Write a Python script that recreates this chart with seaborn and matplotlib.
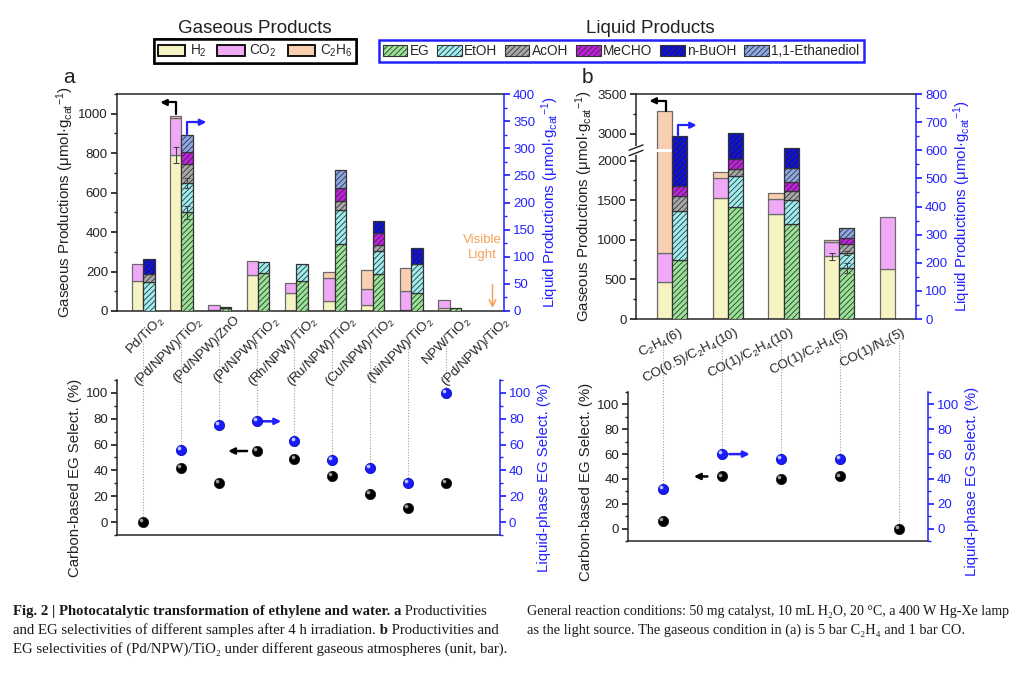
import numpy as np
import pandas as pd
import matplotlib
matplotlib.use("Agg")
import matplotlib.pyplot as plt
import matplotlib.transforms as mtransforms
from matplotlib.patches import Patch
from matplotlib.ticker import MultipleLocator, FixedLocator
import seaborn as sns

nan = np.nan

# ── Panel a: samples (5 bar C2H4 + 1 bar CO) ─────────────────
samples_a = ["Pd/TiO$_2$", "(Pd/NPW)/TiO$_2$", "(Pd/NPW)/ZnO", "(Pt/NPW)/TiO$_2$",
             "(Rh/NPW)/TiO$_2$", "(Ru/NPW)/TiO$_2$", "(Cu/NPW)/TiO$_2$",
             "(Ni/NPW)/TiO$_2$", "NPW/TiO$_2$", "(Pd/NPW)/TiO$_2$"]
h2_a    = [150, 790, 3, 181, 90, 51, 29, 3, 17, 0]
co2_a   = [90, 186, 27, 71, 50, 115, 85, 97, 41, 0]
c2h6_a  = [0, 14, 0, 0, 0, 32, 96, 120, 0, 0]
eg_a    = [0, 182, 6, 70, 55, 123, 68, 34, 6, 0]
etoh_a  = [53, 54, 0, 20, 32, 63, 42, 52, 0, 0]
acoh_a  = [15, 35, 2, 0, 0, 17, 11, 0, 0, 0]
mecho_a = [0, 23, 0, 0, 0, 23, 22, 0, 0, 0]
diol_a  = [0, 30, 0, 0, 0, 34, 0, 0, 0, 0]
buoh_a  = [28, 0, 0, 0, 0, 0, 22, 31, 0, 0]
err_h2_a   = [0, 40, 0, 0, 0, 0, 0, 0, 0, 0]
err_eg_a   = [0, 12, 0, 0, 0, 0, 0, 0, 0, 0]
err_etoh_a = [0, 10, 0, 0, 0, 0, 0, 0, 0, 0]
selc_a = [0, 42, 30, 55, 49, 36, 22, 11, 30, nan]
sell_a = [nan, 56, 75, 78, 63, 48, 42, 30, 100, nan]

# ── Panel b: gas atmospheres (bar) ───────────────────────────
atm_b = ["C$_2$H$_4$(6)", "CO(0.5)/C$_2$H$_4$(10)", "CO(1)/C$_2$H$_4$(10)",
         "CO(1)/C$_2$H$_4$(5)", "CO(1)/N$_2$(5)"]
h2_b    = [463, 1533, 1325, 790, 637]
co2_b   = [374, 246, 187, 187, 645]
c2h6_b  = [2447, 77, 85, 17, 0]
eg_b    = [210, 398, 338, 180, 0]
etoh_b  = [173, 112, 86, 54, 0]
acoh_b  = [53, 24, 30, 32, 0]
mecho_b = [36, 36, 32, 22, 0]
diol_b  = [0, 0, 52, 36, 0]
buoh_b  = [180, 91, 69, 0, 0]
err_h2_b   = [0, 0, 0, 40, 0]
err_eg_b   = [0, 0, 0, 18, 0]
err_etoh_b = [0, 0, 0, 8, 0]
selc_b = [6, 42, 40, 42, 0]
sell_b = [32, 60, 56, 56, nan]

# ── Style ────────────────────────────────────────────────────
sns.set_theme(style="ticks")
plt.rcParams["font.family"] = ["Liberation Sans", "DejaVu Sans"]
plt.rcParams["mathtext.fontset"] = "custom"
plt.rcParams["mathtext.rm"] = "Liberation Sans"
plt.rcParams["mathtext.it"] = "Liberation Sans:italic"
plt.rcParams["mathtext.bf"] = "Liberation Sans:bold"
plt.rcParams["hatch.linewidth"] = 0.6
plt.rcParams["axes.linewidth"] = 1.1

BLUE = "#2222ff"
ORANGE = "#f5a25a"
TXT = "#222222"
TICK_FS = 9.5
LAB_FS = 10.8
gas_colors = {"H2": "#f6f3c2", "CO2": "#efa9f7", "C2H6": "#f8cfb1"}
liq_colors = {"EG": "#98e394", "EtOH": "#9deef0", "AcOH": "#a9a9a9",
              "MeCHO": "#c21fe0", "n-BuOH": "#0b0bd8", "1,1-Ethanediol": "#8ea8e6"}

fig = plt.figure(figsize=(10.3, 6.73), dpi=100)


def draw_stack(ax, x, layers, colors, width, hatch=None, edge="#6a6a6a"):
    bottom = np.zeros(len(x))
    tops = {}
    for name, vals in layers:
        vals = np.asarray(vals, float)
        keep = vals > 0
        ax.bar(x[keep], vals[keep], width, bottom=bottom[keep], align="edge",
               color=colors[name], edgecolor=edge, linewidth=0.9, hatch=hatch, zorder=2)
        bottom = bottom + vals
        tops[name] = bottom.copy()
    return tops


def add_err(ax, x, y, err):
    err = np.asarray(err, float)
    keep = err > 0
    ax.errorbar(x[keep], np.asarray(y)[keep], yerr=err[keep], fmt="none",
                ecolor="#444444", elinewidth=0.8, capsize=2, capthick=0.8, zorder=3)


def style_twin(ax, ax2):
    for s in ["left", "top", "bottom"]:
        ax2.spines[s].set_visible(False)
    ax.spines["right"].set_visible(False)
    ax2.spines["right"].set_color(BLUE)
    ax2.tick_params(axis="y", which="both", colors=BLUE, labelcolor=BLUE, labelsize=TICK_FS)
    ax.tick_params(axis="y", which="both", colors=TXT, labelsize=TICK_FS)
    for a in (ax, ax2):
        a.tick_params(axis="y", which="major", length=4, pad=2.5)
        a.tick_params(axis="y", which="minor", length=2)


def tick_labels(ax, x, labels, rot, dx, dy):
    ax.set_xticks(x)
    ax.set_xticklabels(labels, rotation=rot, ha="right", rotation_mode="anchor", fontsize=TICK_FS)
    ax.tick_params(axis="x", length=0, pad=2, colors=TXT)
    off = mtransforms.ScaledTranslation(dx / 100, dy / 100, fig.dpi_scale_trans)
    for lab in ax.get_xticklabels():
        lab.set_transform(lab.get_transform() + off)


def bent_arrow(ax, start, tip, color):
    ax.annotate("", xy=tip, xytext=start,
                arrowprops=dict(arrowstyle="-|>", color=color, lw=1.6, mutation_scale=9,
                                shrinkA=0, shrinkB=0,
                                connectionstyle="angle,angleA=90,angleB=0,rad=0"),
                annotation_clip=False, zorder=6)


def flat_arrow(ax, start, tip, color):
    ax.annotate("", xy=tip, xytext=start,
                arrowprops=dict(arrowstyle="-|>", color=color, lw=1.8, mutation_scale=9,
                                shrinkA=0, shrinkB=0))


def balls(ax, x, y, color, hl):
    df = pd.DataFrame({"x": x, "y": y}).dropna()
    sns.scatterplot(data=df, x="x", y="y", ax=ax, color=color, s=55,
                    edgecolor="#111111" if color == "black" else "#0000aa",
                    linewidth=0.5, legend=False, zorder=4, clip_on=False)
    off = ax.transData + mtransforms.ScaledTranslation(-1.4 / 72, 1.4 / 72, fig.dpi_scale_trans)
    ax.scatter(df["x"], df["y"], s=7, color=hl, lw=0, zorder=5, transform=off, clip_on=False)
    ax.set_xlabel("")
    ax.set_ylabel("")


def sel_panel(rect, x, selc, sell, xlim, line_top, label_y):
    axs = fig.add_axes(rect)
    axs.patch.set_alpha(0)
    axs2 = axs.twinx()
    tops = np.fmax(np.nan_to_num(np.asarray(selc, float), nan=-99),
                   np.nan_to_num(np.asarray(sell, float), nan=-99))
    keep = tops > -50
    axs.vlines(x[keep], tops[keep], line_top, colors="#a0a0a0", linestyles=(0, (1, 1.5)),
               lw=0.8, clip_on=False, zorder=1)
    balls(axs, x, selc, "black", "#9a9a9a")
    balls(axs2, x, sell, "#1a1aff", "#b8c8ff")
    for a in (axs, axs2):
        a.set_ylim(-10, 110)
        a.set_xlim(*xlim)
        a.yaxis.set_major_locator(MultipleLocator(20))
        a.yaxis.set_minor_locator(MultipleLocator(10))
    axs.set_xticks([])
    axs.spines["top"].set_visible(False)
    style_twin(axs, axs2)
    axs.set_ylabel("Carbon-based EG Select. (%)", fontsize=LAB_FS, color=TXT, labelpad=3)
    axs2.set_ylabel("Liquid-phase EG Select. (%)", fontsize=LAB_FS, color=BLUE, labelpad=4)
    axs.yaxis.label.set_y(label_y)
    axs2.yaxis.label.set_y(label_y)
    return axs, axs2


gas_label = r"Gaseous Productions (μmol·g$_{\mathrm{cat}}$$^{-1}$)"
liq_label = r"Liquid Productions (μmol·g$_{\mathrm{cat}}$$^{-1}$)"

# ── Selectivity panels (bottom, drawn first so top labels sit above) ──
xa = np.arange(len(samples_a))
xb = np.arange(len(atm_b))
sa, sa2 = sel_panel([0.1136, 0.2051, 0.3718, 0.2303], xa, selc_a, sell_a, (-0.68, 9.42), 140, 0.37)
flat_arrow(sa, (2.75, 55), (2.25, 55), "black")
flat_arrow(sa2, (3.12, 78), (3.65, 78), BLUE)
sb, sb2 = sel_panel([0.6097, 0.1961, 0.2913, 0.2214], xb, selc_b, sell_b, (-0.6, 4.5), 150, 0.40)
flat_arrow(sb, (0.75, 42), (0.52, 42), "black")
flat_arrow(sb2, (1.12, 60), (1.47, 60), BLUE)

# ── Panel a (top) ────────────────────────────────────────────
wa = 0.3
ax_a = fig.add_axes([0.1136, 0.5379, 0.3757, 0.3224])
ax_a2 = ax_a.twinx()
gt = draw_stack(ax_a, xa - wa, [("H2", h2_a), ("CO2", co2_a), ("C2H6", c2h6_a)], gas_colors, wa)
lt = draw_stack(ax_a2, xa, [("EG", eg_a), ("EtOH", etoh_a), ("AcOH", acoh_a), ("MeCHO", mecho_a),
                            ("1,1-Ethanediol", diol_a), ("n-BuOH", buoh_a)],
                liq_colors, wa, hatch="//////", edge="#333333")
add_err(ax_a, xa - wa / 2, gt["H2"], err_h2_a)
add_err(ax_a2, xa + wa / 2, lt["EG"], err_eg_a)
add_err(ax_a2, xa + wa / 2, lt["EtOH"], err_etoh_a)
ax_a.set_xlim(-0.68, 9.42)
ax_a.set_ylim(0, 1100)
ax_a2.set_ylim(0, 400)
ax_a.yaxis.set_major_locator(MultipleLocator(200))
ax_a.yaxis.set_minor_locator(MultipleLocator(100))
ax_a2.yaxis.set_major_locator(MultipleLocator(50))
ax_a2.yaxis.set_minor_locator(MultipleLocator(25))
style_twin(ax_a, ax_a2)
tick_labels(ax_a, xa, samples_a, 45, 14, 0)
ax_a.set_ylabel(gas_label, fontsize=LAB_FS, color=TXT, labelpad=2)
ax_a2.set_ylabel(liq_label, fontsize=LAB_FS, color=BLUE, labelpad=3)
bent_arrow(ax_a, (1 - wa / 2, 997), (0.45, 1057), "black")
bent_arrow(ax_a2, (1 + wa / 2, 326), (1.65, 348), BLUE)
ax_a.text(8.85, 322, "Visible\nLight", color=ORANGE, fontsize=9.5, ha="center", va="center",
          linespacing=1.25)
ax_a.annotate("", xy=(9.12, 15), xytext=(9.12, 135),
              arrowprops=dict(arrowstyle="->", color=ORANGE, lw=1.1, shrinkA=0, shrinkB=0))

# ── Panel b (top) with broken left axis ──────────────────────
BRK_LO, BRK_HI = 2130, 2790


def fwd(y):
    y = np.asarray(y, float)
    return np.where(y <= BRK_LO, y,
                    np.where(y >= BRK_HI, y - (BRK_HI - BRK_LO) + 1,
                             BRK_LO + (y - BRK_LO) / (BRK_HI - BRK_LO)))


def inv(z):
    z = np.asarray(z, float)
    return np.where(z <= BRK_LO, z,
                    np.where(z >= BRK_LO + 1, z + (BRK_HI - BRK_LO) - 1,
                             BRK_LO + (z - BRK_LO) * (BRK_HI - BRK_LO)))


wb = 0.27
ax_b = fig.add_axes([0.6175, 0.526, 0.2718, 0.3343])
ax_b.set_yscale("function", functions=(fwd, inv))
ax_b2 = ax_b.twinx()
gt_b = draw_stack(ax_b, xb - wb, [("H2", h2_b), ("CO2", co2_b), ("C2H6", c2h6_b)], gas_colors, wb)
lt_b = draw_stack(ax_b2, xb, [("EG", eg_b), ("EtOH", etoh_b), ("AcOH", acoh_b), ("MeCHO", mecho_b),
                              ("1,1-Ethanediol", diol_b), ("n-BuOH", buoh_b)],
                  liq_colors, wb, hatch="//////", edge="#333333")
add_err(ax_b, xb - wb / 2, gt_b["H2"], err_h2_b)
add_err(ax_b2, xb + wb / 2, lt_b["EG"], err_eg_b)
add_err(ax_b2, xb + wb / 2, lt_b["EtOH"], err_etoh_b)
ax_b.set_xlim(-0.65, 4.38)
ax_b.set_ylim(0, 3500)
ax_b2.set_ylim(0, 800)
ax_b.yaxis.set_major_locator(FixedLocator([0, 500, 1000, 1500, 2000, 3000, 3500]))
ax_b.yaxis.set_minor_locator(FixedLocator([250, 750, 1250, 1750, 3250]))
ax_b.yaxis.set_major_formatter(plt.FuncFormatter(lambda v, p: f"{v:.0f}"))
ax_b2.yaxis.set_major_locator(MultipleLocator(100))
ax_b2.yaxis.set_minor_locator(MultipleLocator(50))
style_twin(ax_b, ax_b2)
tick_labels(ax_b, xb, atm_b, 27, 6, -3)
ax_b.set_ylabel(gas_label, fontsize=LAB_FS, color=TXT, labelpad=2)
ax_b2.set_ylabel(liq_label, fontsize=LAB_FS, color=BLUE, labelpad=3)
# white gap through the broken bar and break marks on the left spine
brk_mid = (BRK_LO + BRK_HI) / 2
ax_b.axhline(brk_mid, color="white", lw=2.2, zorder=2.4)
frac = fwd(brk_mid) / fwd(3500)
ax_b.plot([0, 0], [frac - 0.012, frac + 0.012], color="white", lw=3,
          transform=ax_b.transAxes, clip_on=False, zorder=5)
for d in (-0.012, 0.012):
    ax_b.plot([-0.025, 0.025], [frac + d - 0.012, frac + d + 0.012], color=TXT, lw=1,
              transform=ax_b.transAxes, clip_on=False, zorder=6)
bent_arrow(ax_b, (-wb / 2 + 0.03, 3284), (-0.41, 3415), "black")
bent_arrow(ax_b2, (wb / 2 - 0.03, 654), (0.44, 689), BLUE)

# ── Panel letters, legends ───────────────────────────────────
fig.text(0.061, 0.877, "a", fontsize=15, color=TXT)
fig.text(0.565, 0.877, "b", fontsize=15, color=TXT)

gas_handles = [Patch(facecolor=gas_colors["H2"], edgecolor="black", lw=1.3, label="H$_2$"),
               Patch(facecolor=gas_colors["CO2"], edgecolor="black", lw=1.3, label="CO$_2$"),
               Patch(facecolor=gas_colors["C2H6"], edgecolor="black", lw=1.3, label="C$_2$H$_6$")]
liq_handles = [Patch(facecolor=c, edgecolor="#333333", lw=0.8, hatch="//////", label=n)
               for n, c in liq_colors.items()]
leg_kw = dict(ncol=3, frameon=True, fancybox=False, framealpha=1, fontsize=9.8,
              handlelength=2.0, handleheight=0.9, handletextpad=0.35, columnspacing=0.8,
              borderpad=0.3, loc="center")
lg1 = fig.legend(handles=gas_handles, bbox_to_anchor=(0.2476, 0.924), edgecolor="black", **leg_kw)
lg1.get_frame().set_linewidth(1.8)
leg_kw.update(ncol=6, columnspacing=0.55, handlelength=1.8, handletextpad=0.2)
lg2 = fig.legend(handles=liq_handles, bbox_to_anchor=(0.603, 0.924), edgecolor=BLUE, **leg_kw)
lg2.get_frame().set_linewidth(1.8)
fig.add_artist(lg1)
fig.text(0.2476, 0.958, "Gaseous Products", fontsize=13.5, ha="center", va="center", color=TXT)
fig.text(0.631, 0.958, "Liquid Products", fontsize=13.5, ha="center", va="center", color=TXT)

# ── Caption ──────────────────────────────────────────────────
cap_font = ["Liberation Serif", "DejaVu Serif"]
renderer = fig.canvas.get_renderer()


def rich_line(x, y, parts, size=10.6):
    for txt, weight in parts:
        t = fig.text(x, y, txt, fontsize=size, fontweight=weight, family=cap_font,
                     va="baseline", color="#1a1a1a")
        x += t.get_window_extent(renderer).width / fig.bbox.width


rich_line(0.0126, 1 - 615 / 673, [("Fig. 2 | Photocatalytic transformation of ethylene and water. a", "bold"),
                                  (" Productivities", "normal")])
rich_line(0.0126, 1 - 634 / 673, [("and EG selectivities of different samples after 4 h irradiation.", "normal"),
                                  (" b", "bold"), (" Productivities and", "normal")])
rich_line(0.0126, 1 - 653 / 673, [("EG selectivities of (Pd/NPW)/TiO₂ under different gaseous atmospheres (unit, bar).", "normal")])
rich_line(0.5117, 1 - 615 / 673, [("General reaction conditions: 50 mg catalyst, 10 mL H₂O, 20 °C, a 400 W Hg-Xe lamp", "normal")],
          size=10.1)
rich_line(0.5117, 1 - 634 / 673, [("as the light source. The gaseous condition in (a) is 5 bar C₂H₄ and 1 bar CO.", "normal")],
          size=10.4)

fig.savefig("out.png", dpi=100)
